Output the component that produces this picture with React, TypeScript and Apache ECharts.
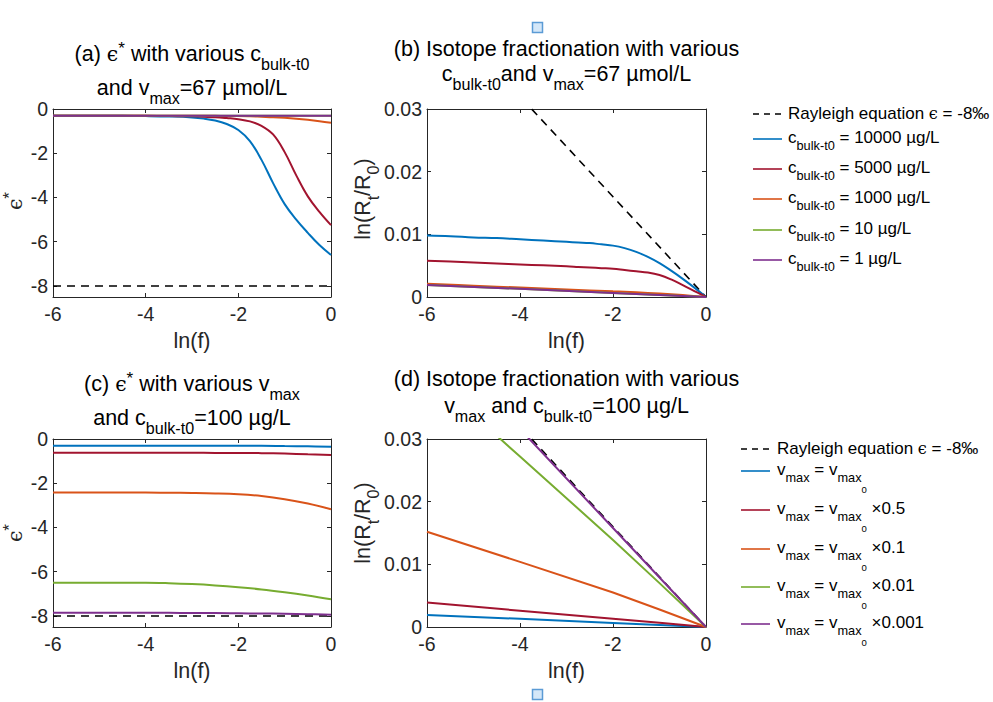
import { useEffect, useRef } from 'react';
import * as echarts from 'echarts';

// ---------- data ----------
const EPS_TICKS = [-8, -6, -4, -2, 0];

// panel (a): epsilon* with various c_bulk-t0
const LNF_A = [-6, -5.5, -5, -4.5, -4, -3.5, -3, -2.75, -2.5, -2.25, -2, -1.75, -1.5, -1.25, -1, -0.75, -0.5, -0.25, 0];
const EPS_A_C10000 = [-0.30, -0.30, -0.30, -0.31, -0.32, -0.34, -0.38, -0.43, -0.52, -0.68, -0.95, -1.45, -2.3, -3.35, -4.3, -5.0, -5.6, -6.15, -6.6];
const EPS_A_C5000 = [-0.30, -0.30, -0.30, -0.30, -0.31, -0.32, -0.33, -0.35, -0.37, -0.41, -0.46, -0.56, -0.76, -1.15, -1.95, -3.0, -3.95, -4.65, -5.25];
const EPS_A_C1000 = [-0.30, -0.30, -0.30, -0.30, -0.30, -0.30, -0.30, -0.31, -0.31, -0.32, -0.32, -0.33, -0.35, -0.37, -0.40, -0.44, -0.49, -0.55, -0.62];
const EPS_A_C10 = [-0.30, -0.30, -0.30, -0.30, -0.30, -0.30, -0.30, -0.30, -0.30, -0.30, -0.30, -0.30, -0.30, -0.30, -0.30, -0.30, -0.30, -0.31, -0.31];
const EPS_A_C1 = [-0.30, -0.30, -0.30, -0.30, -0.30, -0.30, -0.30, -0.30, -0.30, -0.30, -0.30, -0.30, -0.30, -0.30, -0.30, -0.30, -0.30, -0.30, -0.30];
const LNF_RAY_EPS = [-6, 0];
const EPS_RAYLEIGH = [-8, -8];

// panel (b): ln(Rt/R0) with various c_bulk-t0
const LNF_B = [-6, -5.5, -5, -4.5, -4, -3.5, -3, -2.75, -2.5, -2.25, -2, -1.75, -1.5, -1.25, -1, -0.75, -0.5, -0.25, 0];
const LNR_B_C10000 = [0.0098, 0.0097, 0.0095, 0.0094, 0.0092, 0.0090, 0.0088, 0.0087, 0.0086, 0.0084, 0.0082, 0.0078, 0.0072, 0.0064, 0.0054, 0.0042, 0.0029, 0.0015, 0];
const LNR_B_C5000 = [0.0058, 0.00565, 0.0055, 0.00535, 0.0052, 0.00505, 0.0049, 0.0048, 0.0047, 0.0046, 0.0045, 0.0043, 0.0041, 0.0039, 0.0035, 0.0028, 0.0019, 0.00095, 0];
const LNF_B_LOW = [-6, -5, -4, -3, -2, -1.5, -1, -0.5, 0];
const LNR_B_C1000 = [0.0021, 0.0018, 0.0015, 0.0012, 0.0009, 0.00075, 0.00055, 0.0003, 0];
const LNF_LIN = [-6, -4, -2, 0];
const LNR_B_C10 = [0.0019, 0.0013, 0.00065, 0];
const LNR_B_C1 = [0.0019, 0.0013, 0.00065, 0];
const LNR_RAYLEIGH = [0.048, 0.032, 0.016, 0];

// panel (c): epsilon* with various v_max
const LNF_C = [-6, -5.5, -5, -4.5, -4, -3.5, -3, -2.5, -2, -1.5, -1, -0.5, 0];
const EPS_C_V1 = [-0.30, -0.30, -0.30, -0.30, -0.30, -0.30, -0.30, -0.30, -0.31, -0.31, -0.32, -0.33, -0.35];
const EPS_C_V05 = [-0.62, -0.62, -0.62, -0.62, -0.62, -0.62, -0.62, -0.63, -0.63, -0.64, -0.66, -0.69, -0.72];
const EPS_C_V01 = [-2.42, -2.42, -2.42, -2.42, -2.42, -2.43, -2.44, -2.46, -2.5, -2.58, -2.72, -2.92, -3.18];
const EPS_C_V001 = [-6.5, -6.5, -6.5, -6.5, -6.5, -6.52, -6.56, -6.62, -6.7, -6.8, -6.93, -7.08, -7.25];
const EPS_C_V0001 = [-7.86, -7.86, -7.86, -7.86, -7.86, -7.86, -7.87, -7.87, -7.88, -7.89, -7.9, -7.92, -7.95];

// panel (d): ln(Rt/R0) with various v_max
const LNF_D = [-6, -4, -2, -1, 0];
const LNR_D_V1 = [0.0019, 0.0013, 0.00065, 0.00032, 0];
const LNR_D_V05 = [0.0039, 0.0026, 0.0013, 0.00066, 0];
const LNR_D_V01 = [0.0152, 0.0104, 0.0055, 0.0028, 0];
const LNR_D_V001 = [0.0405, 0.0272, 0.0139, 0.0070, 0];
const LNR_D_V0001 = [0.0473, 0.0316, 0.0158, 0.0079, 0];

// ---------- styling ----------
const F = '"Liberation Sans", Arial, Helvetica, sans-serif';
const AX = '#262626';
const C_BLUE = '#0072BD';
const C_RED = '#A2142F';
const C_ORANGE = '#D95319';
const C_GREEN = '#77AC30';
const C_PURPLE = '#7E2F8E';
const TICK_FS = 19.5;
const LABEL_FS = 21.5;
const TITLE_FS = 21.5;
const LEG_FS = 17;

const GRIDS = [
  { left: 53, top: 109, width: 278, height: 188 },
  { left: 427, top: 109, width: 279, height: 188 },
  { left: 53, top: 439, width: 278, height: 188 },
  { left: 427, top: 439, width: 279, height: 188 },
];

const pairs = (xs: number[], ys: number[]) => xs.map((x, i) => [x, ys[i]]);

function richSet(main: number, color = '#000') {
  const sub = main * 0.75;
  const subOff = main * 0.48;
  const ss = sub * 0.75;
  const ssOff = main * 1.2;
  return {
    m: { fontSize: main, fontFamily: F, fill: color, lineHeight: main * 1.2 },
    e: { fontSize: main * 0.95, fontFamily: '"DejaVu Serif", serif', fill: color, lineHeight: main * 1.2 },
    sp: { fontSize: main * 0.8, fontFamily: F, fill: color, lineHeight: main * 0.8, padding: [0, 0, main * 0.6, 0] },
    s: { fontSize: sub, fontFamily: F, fill: color, lineHeight: sub, padding: [subOff * 2, 0, 0, 0] },
    ss: { fontSize: ss, fontFamily: F, fill: color, lineHeight: ss, padding: [ssOff * 2, 0, 0, 0] },
  };
}

function textEl(text: string, x: number, y: number, fs: number, align: string, rotation = 0, color = '#000') {
  return {
    type: 'text',
    x,
    y,
    rotation,
    silent: true,
    style: {
      text,
      x: 0,
      y: 0,
      fill: color,
      fontSize: fs,
      fontFamily: F,
      align,
      textAlign: align,
      verticalAlign: 'middle',
      textVerticalAlign: 'middle',
      rich: richSet(fs, color),
    },
  };
}

function axesFor(g: number, kind: 'eps' | 'lnr') {
  const line = { show: true, onZero: false, lineStyle: { color: AX, width: 1 } };
  const tick = { show: true, inside: true, length: 4, lineStyle: { color: AX, width: 1 } };
  const xBase = { type: 'value', gridIndex: g, min: -6, max: 0, interval: 2, splitLine: { show: false }, axisLine: line };
  const xs = [
    {
      ...xBase,
      position: 'bottom',
      axisTick: tick,
      axisLabel: { show: true, margin: 7, fontSize: TICK_FS, fontFamily: F, color: AX },
      name: 'ln(f)',
      nameLocation: 'middle',
      nameGap: 33,
      nameTextStyle: { fontSize: LABEL_FS, fontFamily: F, color: AX },
    },
    { ...xBase, position: 'top', axisTick: tick, axisLabel: { show: false } },
  ];
  let ys: any[];
  if (kind === 'eps') {
    const yBase = { type: 'value', gridIndex: g, min: -8.5, max: 0, splitLine: { show: false }, axisLine: line };
    ys = [
      {
        ...yBase,
        position: 'left',
        axisTick: { ...tick, customValues: EPS_TICKS },
        axisLabel: { show: true, margin: 5, fontSize: TICK_FS, fontFamily: F, color: AX, customValues: EPS_TICKS },
      },
      { ...yBase, position: 'right', axisTick: { ...tick, customValues: EPS_TICKS }, axisLabel: { show: false } },
    ];
  } else {
    const yBase = { type: 'value', gridIndex: g, min: 0, max: 0.03, interval: 0.01, splitLine: { show: false }, axisLine: line };
    ys = [
      {
        ...yBase,
        position: 'left',
        axisTick: tick,
        axisLabel: { show: true, margin: 5, fontSize: TICK_FS, fontFamily: F, color: AX },
      },
      { ...yBase, position: 'right', axisTick: tick, axisLabel: { show: false } },
    ];
  }
  return { xs, ys };
}

function lineSeries(name: string, g: number, xs: number[], ys: number[], color: string, dashed = false, smooth = true) {
  return {
    type: 'line',
    name,
    xAxisIndex: g * 2,
    yAxisIndex: g * 2,
    data: pairs(xs, ys),
    symbol: 'none',
    showSymbol: false,
    smooth: smooth ? 0.4 : false,
    clip: true,
    silent: true,
    lineStyle: { color, width: dashed ? 1.6 : 2, type: dashed ? [8, 6] : 'solid' },
    itemStyle: { color },
    z: dashed ? 1 : 2,
  };
}

function buildOption() {
  const kinds: ('eps' | 'lnr')[] = ['eps', 'lnr', 'eps', 'lnr'];
  const xAxis: any[] = [];
  const yAxis: any[] = [];
  kinds.forEach((k, g) => {
    const a = axesFor(g, k);
    xAxis.push(...a.xs);
    yAxis.push(...a.ys);
  });

  const series = [
    lineSeries('Rayleigh', 0, LNF_RAY_EPS, EPS_RAYLEIGH, '#000', true, false),
    lineSeries('c10000', 0, LNF_A, EPS_A_C10000, C_BLUE),
    lineSeries('c5000', 0, LNF_A, EPS_A_C5000, C_RED),
    lineSeries('c1000', 0, LNF_A, EPS_A_C1000, C_ORANGE),
    lineSeries('c10', 0, LNF_A, EPS_A_C10, C_GREEN),
    lineSeries('c1', 0, LNF_A, EPS_A_C1, C_PURPLE),

    lineSeries('Rayleigh', 1, LNF_LIN, LNR_RAYLEIGH, '#000', true, false),
    lineSeries('c10000', 1, LNF_B, LNR_B_C10000, C_BLUE),
    lineSeries('c5000', 1, LNF_B, LNR_B_C5000, C_RED),
    lineSeries('c1000', 1, LNF_B_LOW, LNR_B_C1000, C_ORANGE),
    lineSeries('c10', 1, LNF_LIN, LNR_B_C10, C_GREEN, false, false),
    lineSeries('c1', 1, LNF_LIN, LNR_B_C1, C_PURPLE, false, false),

    lineSeries('Rayleigh', 2, LNF_RAY_EPS, EPS_RAYLEIGH, '#000', true, false),
    lineSeries('v1', 2, LNF_C, EPS_C_V1, C_BLUE),
    lineSeries('v0.5', 2, LNF_C, EPS_C_V05, C_RED),
    lineSeries('v0.1', 2, LNF_C, EPS_C_V01, C_ORANGE),
    lineSeries('v0.01', 2, LNF_C, EPS_C_V001, C_GREEN),
    lineSeries('v0.001', 2, LNF_C, EPS_C_V0001, C_PURPLE),

    lineSeries('Rayleigh', 3, LNF_LIN, LNR_RAYLEIGH, '#000', true, false),
    lineSeries('v1', 3, LNF_D, LNR_D_V1, C_BLUE, false, false),
    lineSeries('v0.5', 3, LNF_D, LNR_D_V05, C_RED, false, false),
    lineSeries('v0.1', 3, LNF_D, LNR_D_V01, C_ORANGE, false, false),
    lineSeries('v0.01', 3, LNF_D, LNR_D_V001, C_GREEN, false, false),
    lineSeries('v0.001', 3, LNF_D, LNR_D_V0001, C_PURPLE, false, false),
  ];

  const ca = GRIDS[0].left + GRIDS[0].width / 2;
  const cb = GRIDS[1].left + GRIDS[1].width / 2;

  const graphic: any[] = [
    // small marker squares
    { type: 'rect', silent: true, shape: { x: 532.5, y: 22.5, width: 10, height: 10 }, style: { fill: '#D4E7F8', stroke: '#5B9BD5', lineWidth: 1.5 } },
    { type: 'rect', silent: true, shape: { x: 532.5, y: 689.5, width: 10, height: 10 }, style: { fill: '#D4E7F8', stroke: '#5B9BD5', lineWidth: 1.5 } },
    // titles
    textEl('{m|(a)\u00A0}{e|ϵ}{sp|*}{m|\u00A0with various c}{s|bulk-t0}', ca, 54, TITLE_FS, 'center'),
    textEl('{m|and v}{s|max}{m|=67 µmol/L}', ca, 87.5, TITLE_FS, 'center'),
    textEl('{m|(b) Isotope fractionation with various}', cb, 49, TITLE_FS, 'center'),
    textEl('{m|c}{s|bulk-t0}{m|and v}{s|max}{m|=67 µmol/L}', cb, 73.5, TITLE_FS, 'center'),
    textEl('{m|(c)\u00A0}{e|ϵ}{sp|*}{m|\u00A0with various v}{s|max}', ca, 384, TITLE_FS, 'center'),
    textEl('{m|and c}{s|bulk-t0}{m|=100 µg/L}', ca, 417.5, TITLE_FS, 'center'),
    textEl('{m|(d) Isotope fractionation with various}', cb, 378.5, TITLE_FS, 'center'),
    textEl('{m|v}{s|max}{m|\u00A0and c}{s|bulk-t0}{m|=100 µg/L}', cb, 405.5, TITLE_FS, 'center'),
    // y-axis names
    textEl('{e|ϵ}{sp|*}', 15, 201, LABEL_FS, 'center', Math.PI / 2, AX),
    textEl('{e|ϵ}{sp|*}', 15, 533, LABEL_FS, 'center', Math.PI / 2, AX),
    textEl('{m|ln(R}{s|t}{m|/R}{s|0}{m|)}', 363, 199, LABEL_FS, 'center', Math.PI / 2, AX),
    textEl('{m|ln(R}{s|t}{m|/R}{s|0}{m|)}', 363, 523, LABEL_FS, 'center', Math.PI / 2, AX),
  ];

  // legends
  const topRows = [
    { t: '{m|c}{s|bulk-t0}{m|\u00A0= 10000 µg/L}', c: C_BLUE, y: 137 },
    { t: '{m|c}{s|bulk-t0}{m|\u00A0= 5000 µg/L}', c: C_RED, y: 167 },
    { t: '{m|c}{s|bulk-t0}{m|\u00A0= 1000 µg/L}', c: C_ORANGE, y: 197 },
    { t: '{m|c}{s|bulk-t0}{m|\u00A0= 10 µg/L}', c: C_GREEN, y: 228 },
    { t: '{m|c}{s|bulk-t0}{m|\u00A0= 1 µg/L}', c: C_PURPLE, y: 258 },
  ];
  const botRows = [
    { t: '{m|v}{s|max}{m|\u00A0= v}{s|max}{ss|0}', c: C_BLUE, y: 469 },
    { t: '{m|v}{s|max}{m|\u00A0= v}{s|max}{ss|0}{m|\u00A0×0.5}', c: C_RED, y: 508 },
    { t: '{m|v}{s|max}{m|\u00A0= v}{s|max}{ss|0}{m|\u00A0×0.1}', c: C_ORANGE, y: 547 },
    { t: '{m|v}{s|max}{m|\u00A0= v}{s|max}{ss|0}{m|\u00A0×0.01}', c: C_GREEN, y: 585 },
    { t: '{m|v}{s|max}{m|\u00A0= v}{s|max}{ss|0}{m|\u00A0×0.001}', c: C_PURPLE, y: 622 },
  ];
  const legend = (x1: number, x2: number, tx: number, rayY: number, rows: { t: string; c: string; y: number }[]) => {
    graphic.push({ type: 'line', silent: true, shape: { x1, y1: rayY + 1, x2, y2: rayY + 1 }, style: { stroke: '#000', lineWidth: 1.3, lineDash: [6, 5] } });
    graphic.push(textEl('{m|Rayleigh equation\u00A0}{e|ϵ}{m|\u00A0= -8‰}', tx, rayY, LEG_FS, 'left'));
    rows.forEach((r) => {
      graphic.push({ type: 'line', silent: true, shape: { x1, y1: r.y + 2, x2, y2: r.y + 2 }, style: { stroke: r.c, lineWidth: 1.6 } });
      graphic.push(textEl(r.t, tx, r.y, LEG_FS, 'left'));
    });
  };
  legend(753, 782, 788, 113, topRows);
  legend(741, 770, 777, 448, botRows);

  return {
    animation: false,
    backgroundColor: '#ffffff',
    grid: GRIDS.map((g) => ({ ...g, containLabel: false, outerBoundsMode: 'none' })),
    xAxis,
    yAxis,
    series,
    graphic,
  };
}

export default function App() {
  const ref = useRef<HTMLDivElement>(null);
  useEffect(() => {
    if (!ref.current) return;
    const chart = echarts.init(ref.current, null, { renderer: 'svg' });
    chart.setOption(buildOption() as any);
    return () => chart.dispose();
  }, []);
  return (
    <div
      ref={ref}
      style={{ position: 'absolute', left: 0, top: 0, width: 993, height: 702, background: '#fff' }}
    />
  );
}
